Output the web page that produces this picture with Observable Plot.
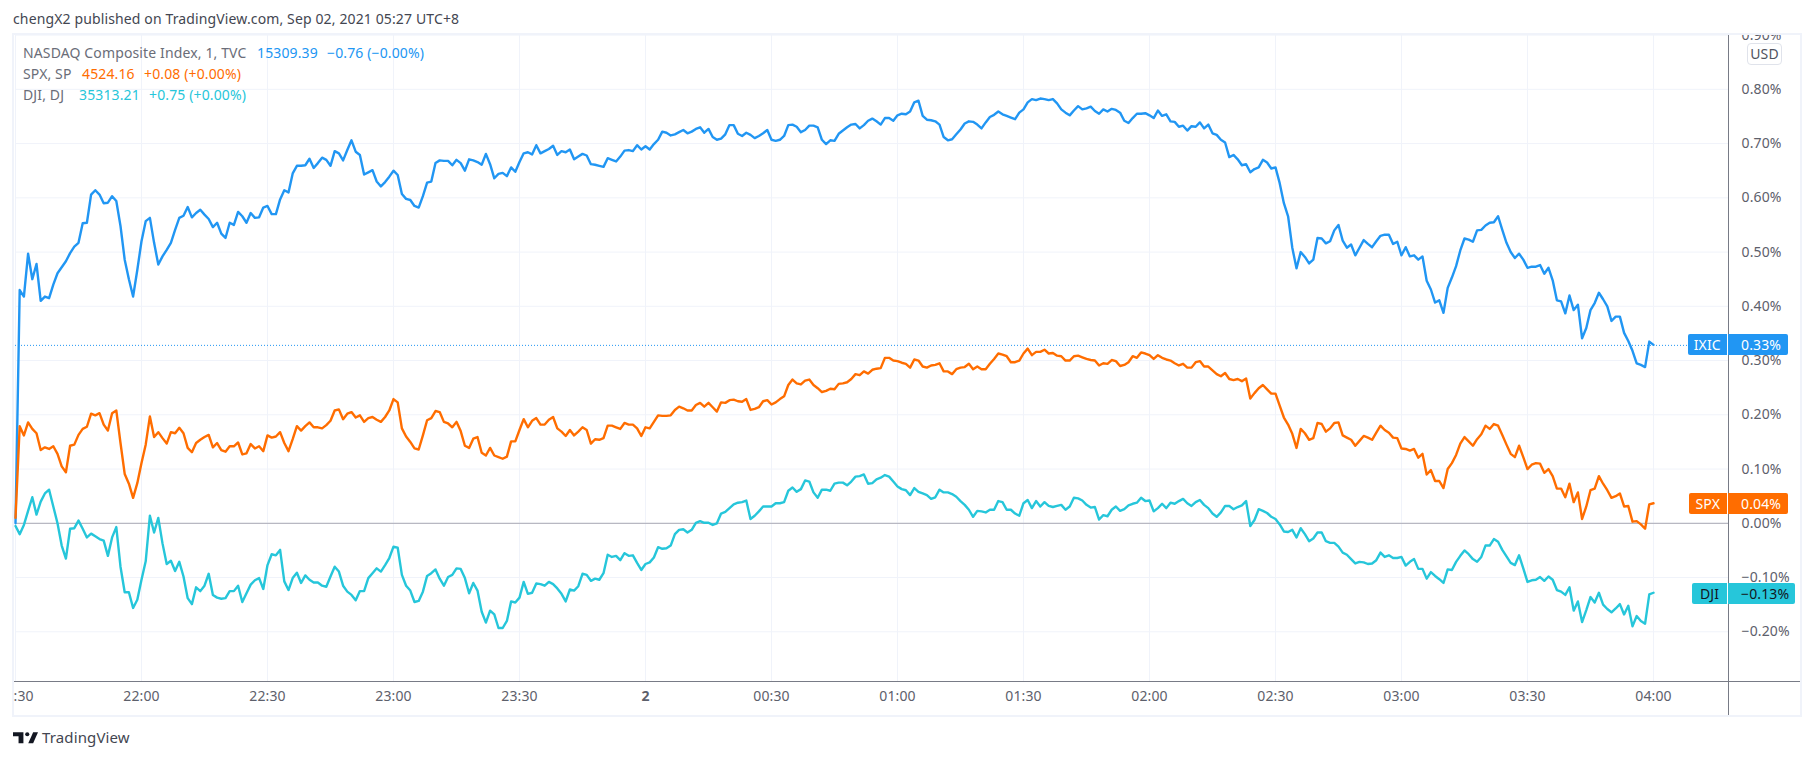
<!DOCTYPE html>
<html><head><meta charset="utf-8">
<script src="https://cdn.jsdelivr.net/npm/d3@7"></script>
<script src="https://cdn.jsdelivr.net/npm/@observablehq/plot@0.6"></script>
<style>
html,body{margin:0;padding:0;background:#fff;}
#page{position:relative;width:1813px;height:760px;overflow:hidden;font-family:"Noto Sans",sans-serif;font-size:14px;letter-spacing:.13px;}
.abs{position:absolute;white-space:pre;line-height:16px;}
#frame{position:absolute;left:12px;top:33px;width:1786px;height:680px;border:2px solid #f0f3fa;box-sizing:content-box;margin:0;}
#chart{position:absolute;left:14px;top:35px;}
.badge{position:absolute;height:21px;line-height:21px;border-radius:2px;}
</style></head><body>
<div id="page"></div>
<script>
// Percent change per minute from the 21:30 open (one value per minute, 21:30 to 04:00)
const ixic = [0,.430,.418,.497,.450,.478,.410,.418,.415,.440,.461,.472,.483,.498,.510,.517,.553,.554,.606,.614,.606,.590,.591,.603,.594,.548,.486,.450,.418,.467,
.520,.557,.563,.517,.477,.492,.504,.517,.541,.563,.567,.583,.564,.572,.578,.569,.561,.546,.554,.534,.526,.554,.550,.574,.566,.554,.572,.563,.564,.582,
.585,.570,.570,.597,.614,.610,.645,.659,.659,.660,.672,.655,.664,.674,.670,.659,.686,.682,.669,.688,.706,.685,.679,.643,.647,.651,.630,.621,.629,.639,
.650,.642,.607,.598,.596,.585,.582,.603,.628,.630,.664,.669,.668,.668,.660,.670,.664,.650,.671,.669,.666,.661,.681,.662,.636,.644,
.646,.640,.656,.648,.666,.682,.684,.680,.697,.682,.686,.690,.696,.679,.686,.684,.689,.671,.676,.681,.678,.662,.661,.659,.657,.673,.670,.667,.676,.687,.688,.686,.697,.689,.695,.689,.699,.707,.722,.720,.715,.717,.721,.725,.719,.722,.727,.730,.720,.727,.712,.707,.709,.717,.734,.734,.718,.714,.720,.716,.710,.714,.719,.725,.707,.705,.707,.714,.734,.735,.731,.721,.725,.733,.733,.730,.707,.699,.706,.705,.718,.724,.730,.735,.736,.728,.734,.742,.746,.741,.735,.747,.747,.742,.752,.755,.754,.759,.776,.779,.751,.744,.743,.741,.735,.712,.706,.708,.717,.726,.737,.741,.740,.735,.728,.739,.749,.753,.759,
.754,.751,.748,.745,.757,.763,.776,.782,.780,.783,.782,.780,.782,.774,.763,.757,.752,.761,.769,.763,.765,.768,.760,.755,.763,.759,.764,.762,.757,.742,.738,.747,.755,.755,.756,.752,.747,.761,.751,.754,.741,.740,.731,.733,.724,.732,.731,.739,.728,.735,.719,.716,.707,.702,.675,.679,.671,.660,.662,.647,.653,.656,.670,.665,.654,.656,.627,.590,.566,.508,.470,.500,.491,.479,.486,.526,.525,.516,.520,.540,.550,.521,.508,.514,.494,.508,.522,.515,.509,.520,.530,.532,.532,.515,.519,.494,.509,.492,.494,.486,.492,.447,.431,.407,.411,.388,.434,.453,.474,.503,.525,.523,.519,.540,.541,.549,.554,.555,.566,
.541,.517,.500,.489,.497,.486,.471,.473,.473,.476,.460,.471,.448,.411,.409,.387,.420,.393,.403,.341,.360,.393,.406,.425,.413,.400,.373,.381,.381,.351,.336,.318,.295,.292,.288,.335,.329];
const spx = [.01,.179,.162,.186,.174,.166,.135,.140,.137,.142,.128,.105,.094,.143,.145,.163,.174,.178,.202,.199,.203,.182,.171,.203,.208,.148,.091,.073,.047,.074,
.111,.145,.197,.159,.168,.157,.147,.168,.166,.176,.166,.139,.131,.148,.154,.159,.163,.140,.148,.135,.132,.142,.142,.149,.127,.129,.146,.138,.142,.133,
.162,.158,.160,.168,.148,.133,.155,.179,.171,.179,.186,.177,.177,.175,.181,.189,.208,.210,.192,.202,.205,.195,.199,.187,.194,.196,.191,.187,.196,.208,
.229,.223,.175,.160,.150,.138,.136,.162,.190,.194,.207,.205,.187,.184,.177,.187,.170,.143,.139,.156,.159,.130,.125,.139,.125,.122,
.119,.123,.151,.151,.172,.192,.177,.189,.194,.182,.182,.191,.196,.175,.169,.161,.172,.162,.169,.177,.172,.147,.155,.154,.157,.180,.180,.177,.174,.185,.182,.182,.175,.161,.177,.175,.187,.199,.198,.198,.199,.209,.215,.212,.208,.208,.218,.222,.215,.222,.214,.206,.223,.222,.227,.228,.225,.224,.229,.209,.211,.214,.225,.227,.219,.223,.229,.234,.255,.265,.258,.256,.263,.265,.255,.249,.242,.244,.248,.247,.257,.258,.260,.266,.275,.273,.280,.276,.283,.285,.286,.305,.305,.300,.299,.296,.294,.287,.302,.300,.289,.287,.291,.292,.295,.280,.280,.275,.284,.287,.288,.294,.284,.289,.284,.284,.294,.303,.313,
.311,.308,.297,.297,.300,.313,.322,.310,.316,.316,.320,.313,.314,.309,.308,.300,.300,.308,.309,.306,.303,.301,.300,.291,.295,.294,.301,.299,.290,.292,.297,.308,.305,.315,.313,.310,.303,.310,.305,.302,.300,.295,.291,.294,.287,.287,.297,.299,.289,.289,.282,.275,.271,.277,.266,.264,.266,.262,.267,.230,.240,.249,.255,.247,.239,.239,.217,.195,.182,.165,.139,.174,.166,.154,.157,.185,.183,.169,.175,.185,.186,.162,.158,.154,.143,.152,.161,.158,.154,.167,.180,.172,.167,.158,.157,.138,.137,.134,.137,.121,.128,.090,.098,.078,.078,.065,.100,.111,.126,.147,.159,.151,.143,.155,.164,.180,.174,.183,.180,
.163,.145,.128,.122,.143,.122,.100,.108,.111,.110,.093,.100,.087,.064,.064,.048,.073,.039,.057,.008,.031,.061,.064,.087,.073,.061,.047,.050,.055,.031,.032,.003,.004,-.002,-.010,.035,.037];
const dji = [-.005,-.020,-.003,.023,.048,.016,.040,.055,.062,.031,.000,-.041,-.065,-.010,-.009,.005,-.010,-.026,-.019,-.024,-.029,-.032,-.060,-.026,-.007,-.080,-.127,-.127,-.156,-.141,
-.104,-.070,.014,-.017,.010,-.037,-.075,-.069,-.088,-.071,-.098,-.138,-.149,-.118,-.125,-.115,-.093,-.132,-.137,-.139,-.138,-.125,-.125,-.115,-.145,-.129,-.113,-.105,-.101,-.121,
-.077,-.057,-.059,-.049,-.107,-.123,-.101,-.091,-.110,-.096,-.104,-.109,-.109,-.115,-.117,-.098,-.080,-.089,-.115,-.126,-.132,-.142,-.125,-.125,-.101,-.092,-.083,-.089,-.077,-.064,
-.043,-.045,-.095,-.115,-.124,-.145,-.143,-.126,-.097,-.092,-.085,-.102,-.115,-.099,-.095,-.083,-.084,-.101,-.129,-.110,-.124,-.163,-.183,-.161,-.168,-.193,
-.193,-.180,-.144,-.146,-.137,-.108,-.130,-.128,-.111,-.112,-.115,-.108,-.112,-.120,-.130,-.144,-.122,-.124,-.116,-.093,-.095,-.106,-.102,-.104,-.092,-.058,-.062,-.060,-.068,-.055,-.060,-.059,-.073,-.086,-.075,-.072,-.063,-.044,-.047,-.046,-.041,-.020,-.012,-.011,-.017,-.012,.001,.004,.001,.001,-.003,.000,.018,.021,.028,.035,.038,.039,.042,.008,.014,.022,.031,.031,.031,.037,.037,.039,.060,.066,.058,.063,.079,.077,.057,.047,.062,.062,.060,.073,.075,.075,.070,.077,.086,.087,.090,.073,.074,.081,.084,.089,.086,.077,.068,.063,.061,.052,.065,.058,.055,.052,.045,.048,.062,.057,.057,.054,.049,.041,.034,.025,.012,.023,.022,.020,.025,.025,.041,
.039,.025,.025,.018,.014,.037,.043,.028,.041,.031,.039,.032,.030,.032,.034,.025,.031,.047,.046,.042,.034,.029,.030,.007,.015,.013,.025,.031,.023,.026,.033,.036,.038,.047,.041,.042,.022,.028,.036,.028,.038,.036,.041,.045,.037,.032,.039,.043,.034,.028,.018,.012,.020,.032,.032,.026,.030,.033,.041,-.005,.006,.026,.023,.019,.012,.008,-.002,-.015,-.016,-.012,-.026,-.009,-.020,-.033,-.028,-.017,-.017,-.033,-.036,-.036,-.043,-.054,-.058,-.066,-.074,-.071,-.072,-.075,-.074,-.068,-.054,-.062,-.059,-.064,-.064,-.062,-.078,-.071,-.066,-.084,-.084,-.102,-.090,-.097,-.103,-.110,-.085,-.086,-.071,-.060,-.050,-.057,-.066,-.071,-.062,-.041,-.041,-.029,-.034,
-.049,-.061,-.073,-.077,-.059,-.083,-.108,-.105,-.104,-.099,-.106,-.098,-.104,-.123,-.126,-.132,-.118,-.161,-.144,-.182,-.160,-.136,-.146,-.128,-.150,-.158,-.164,-.157,-.149,-.168,-.152,-.190,-.171,-.180,-.185,-.131,-.128];

const xTickMinutes = [0,30,60,90,120,180,210,240,270,300,330,360,390];
const xTickLabels  = ["21:30","22:00","22:30","23:00","23:30","00:30","01:00","01:30","02:00","02:30","03:00","03:30","04:00"];
const dayTickMinute = 150, dayTickLabel = "2";
const yTicks = [-.2,-.1,0,.1,.2,.3,.4,.5,.6,.7,.8,.9];

const colors = {IXIC:"#2196f3", SPX:"#ff6d00", DJI:"#26c6da"};
const open = Date.UTC(2021,8,1,21,30);
const T = m => new Date(open + m*60000);
const series = [["IXIC",ixic],["SPX",spx],["DJI",dji]];
const rows = series.flatMap(([s,v]) => v.map((p,i)=>({s,t:T(i),p})));
const labelAt = new Map(xTickMinutes.map((m,i)=>[+T(m),xTickLabels[i]]));
const fmtY = v => (v<0?"\u2212":"")+Math.abs(v).toFixed(2)+"%";
const GRID="#f0f3fa", TXT="#5d606b", FONT='"Noto Sans",sans-serif';

const plot = Plot.plot({
  width:1786, height:681,
  marginLeft:1, marginRight:72, marginTop:0, marginBottom:35,
  style:{background:"transparent",overflow:"hidden",fontFamily:FONT,fontSize:"14px"},
  x:{type:"utc",domain:[T(0),T(407.86)],label:null},
  y:{domain:[-.2916,.8992],label:null},
  marks:[
    Plot.gridX([...xTickMinutes,dayTickMinute].map(T),{stroke:GRID,strokeOpacity:1,strokeWidth:1}),
    Plot.gridY(yTicks,{stroke:GRID,strokeOpacity:1,strokeWidth:1}),
    Plot.ruleY([0],{stroke:"#a9a9b4",strokeWidth:1}),
    Plot.ruleY([.328],{stroke:"#2196f3",strokeWidth:1,strokeDasharray:"1,2"}),
    Plot.line(rows,{x:"t",y:"p",z:"s",stroke:d=>colors[d.s],strokeWidth:2.4,strokeLinejoin:"round",curve:"linear"}),
    Plot.axisX(xTickMinutes.map(T),{anchor:"bottom",tickSize:0,tickPadding:10,fill:TXT,label:null,fontSize:14,tickFormat:d=>labelAt.get(+d)}),
    Plot.axisX([T(dayTickMinute)],{anchor:"bottom",tickSize:0,tickPadding:10,fill:TXT,label:null,fontSize:14,fontWeight:"bold",tickFormat:()=>dayTickLabel}),
    Plot.axisY(yTicks,{anchor:"right",tickSize:0,tickPadding:13,fill:TXT,label:null,fontSize:14,textAnchor:"start",tickFormat:fmtY})
  ]
});

const page = document.getElementById("page");
const el = (tag,css,text,cls) => {const e=document.createElement(tag); if(cls)e.className=cls; e.style.cssText=css; if(text!=null)e.textContent=text; page.appendChild(e); return e;};
el("div","",null).id="frame";
const chart=el("div","",null); chart.id="chart"; chart.appendChild(plot);

// axis lines
el("div","position:absolute;left:14px;top:681px;width:1786px;height:1px;background:#787b86");
el("div","position:absolute;left:1728px;top:35px;width:1px;height:680px;background:#787b86");

// header
el("div","left:13px;top:11px;color:#434651;","chengX2 published on TradingView.com, Sep 02, 2021 05:27 UTC+8","abs");

// legend
const legend = [
 [45,"NASDAQ Composite Index, 1, TVC","15309.39","\u22120.76 (\u22120.00%)",257,327,colors.IXIC],
 [66,"SPX, SP","4524.16","+0.08 (+0.00%)",82,144,colors.SPX],
 [87,"DJI, DJ","35313.21","+0.75 (+0.00%)",79,149,colors.DJI]];
for(const [top,name,val,chg,x1,x2,c] of legend){
  el("div",`left:23px;top:${top}px;color:#6a6d78`,name,"abs");
  el("div",`left:${x1}px;top:${top}px;color:${c}`,val,"abs");
  el("div",`left:${x2}px;top:${top}px;color:${c}`,chg,"abs");
}

// USD box
el("div","position:absolute;left:1747px;top:43px;width:33px;height:20px;border:1px solid #e0e3eb;border-radius:4px;background:#fff;color:#50535e;text-align:center;line-height:20px","USD");

// price badges placed through the y scale
const yPx = v => plot.scale("y").apply(v)+35;
const badges = [
 ["IXIC","0.33%",.328,colors.IXIC,"#fff",1687.5,1787.5],
 ["SPX","0.04%",.035,colors.SPX,"#fff",1688.5,1787.5],
 ["DJI","\u22120.13%",-.131,colors.DJI,"#131722",1692,1795]];
for(const [n,val,v,c,fg,l,r] of badges){
  const top=yPx(v)-10.5;
  el("div",`left:${l}px;top:${top}px;width:${1727-l}px;background:${c};color:${fg};text-align:center;border-radius:2px 0 0 2px`,n,"badge");
  el("div",`left:1728px;top:${top}px;width:${r-1728}px;background:${c};color:${fg};text-align:left;padding-left:13px;box-sizing:border-box;border-radius:0 2px 2px 0`,val,"badge");
}

// footer
const ns="http://www.w3.org/2000/svg";
const logo=document.createElementNS(ns,"svg");
logo.setAttribute("viewBox","0 0 36 20");logo.setAttribute("width","25");logo.setAttribute("height","14");
logo.style.cssText="position:absolute;left:13px;top:730px";
logo.innerHTML='<path fill="#131722" d="M15 3H0v6h8v10h7z"/><circle fill="#131722" cx="20.5" cy="6" r="3"/><path fill="#131722" d="M36 3h-7l-7 16h7z"/>';
page.appendChild(logo);
el("div","left:42px;top:728px;color:#434651;font-size:15px;line-height:18px;","TradingView","abs");
</script>
</body></html>
